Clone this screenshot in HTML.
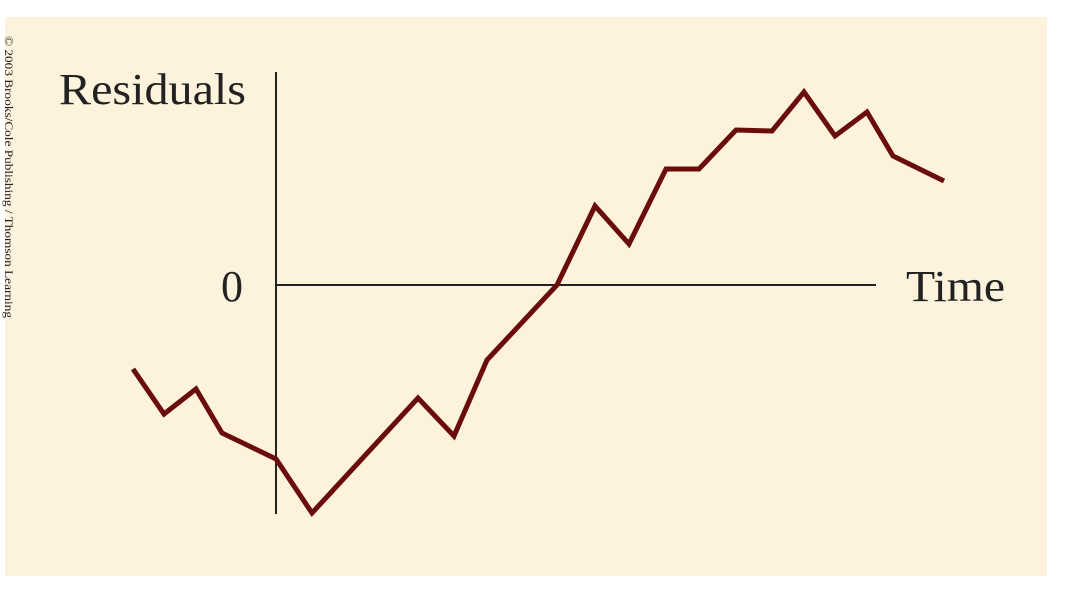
<!DOCTYPE html>
<html><head><meta charset="utf-8"><style>
html,body{margin:0;padding:0;background:#fff;width:1066px;height:595px;overflow:hidden}
svg{position:absolute;left:0;top:0}
</style></head><body>
<svg width="1066" height="595">
<rect x="5" y="17" width="1042" height="559" fill="#fdf2dc"/>
<text transform="translate(5,36) rotate(90)" font-family="Liberation Serif, serif" font-size="11.5" fill="#222" textLength="282" lengthAdjust="spacingAndGlyphs">© 2003 Brooks/Cole Publishing / Thomson Learning</text>
<line x1="276" y1="72" x2="276" y2="514" stroke="#222" stroke-width="2"/>
<line x1="276" y1="285" x2="876" y2="285" stroke="#222" stroke-width="2"/>
<text x="59" y="104" font-family="Liberation Serif, serif" font-size="44" fill="#222" textLength="187" lengthAdjust="spacingAndGlyphs">Residuals</text>
<text x="221" y="301" font-family="Liberation Serif, serif" font-size="44" fill="#222">0</text>
<text x="906" y="301" font-family="Liberation Serif, serif" font-size="44" fill="#222" textLength="99" lengthAdjust="spacingAndGlyphs">Time</text>
<g id="series"></g>
</svg>
<script>
const times = [0, 3.1, 6.3, 8.9, 14.3, 17.9, 28.5, 32.1, 35.4, 42.4, 46.2, 49.6, 53.3, 56.6, 60.3, 63.9, 67.1, 70.2, 73.4, 76.0, 81.1];
const residuals = [-8.4, -12.9, -10.4, -14.8, -17.4, -22.8, -11.3, -15.1, -7.5, 0, 7.9, 4.1, 11.6, 11.6, 15.5, 15.4, 19.3, 14.9, 17.3, 12.9, 10.4];
function xScale(t){ return 133 + t * 10; }
function yScale(v){ return 285 - v * 10; }
const g = document.getElementById('series');
const pl = document.createElementNS('http://www.w3.org/2000/svg','polyline');
pl.setAttribute('points', times.map((t,i)=>xScale(t)+','+yScale(residuals[i])).join(' '));
pl.setAttribute('fill','none');
pl.setAttribute('stroke','#6a0c0c');
pl.setAttribute('stroke-width','5');
pl.setAttribute('stroke-linejoin','miter');


g.appendChild(pl);
</script>
</body></html>
